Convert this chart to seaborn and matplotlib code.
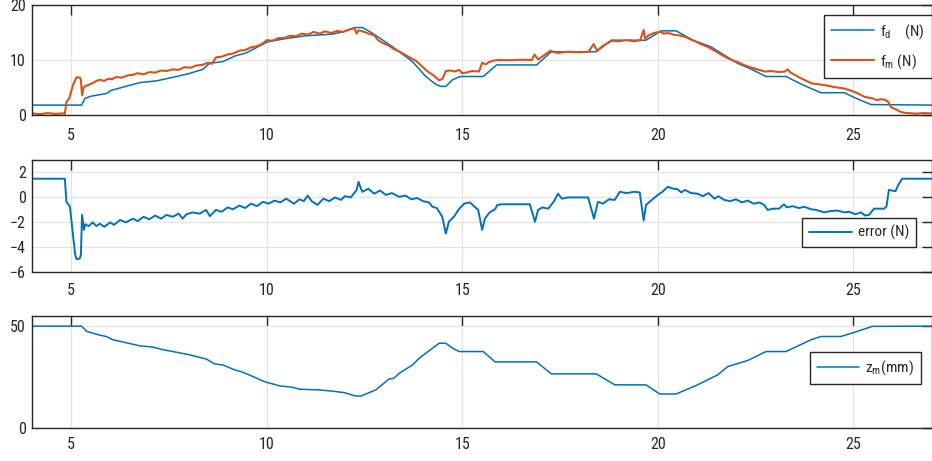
import matplotlib
matplotlib.use("Agg")
import matplotlib.pyplot as plt
from matplotlib import font_manager as fm
import seaborn as sns
import pandas as pd

# ---------------- data ----------------
t_fd = [4.0, 5.27, 5.35, 5.5, 5.9, 6.03, 6.4, 6.76, 7.18, 7.6, 8.0, 8.37, 8.54, 8.88,
        9.18, 9.48, 10.02, 10.5, 11.0, 11.68, 12.0, 12.25, 12.45, 12.71, 13.22, 13.73,
        14.07, 14.32, 14.45, 14.58, 14.75, 14.95, 15.54, 15.88, 16.9, 17.28, 18.43,
        18.81, 19.7, 20.09, 20.47, 20.9, 21.36, 21.7, 22.04, 22.4, 22.77, 23.28, 23.7,
        24.17, 24.77, 25.02, 25.45, 27.0]
f_d = [1.8, 1.8, 3.0, 3.4, 3.9, 4.5, 5.2, 5.9, 6.2, 6.85, 7.5, 8.3, 9.4, 9.7,
       10.7, 11.3, 13.3, 13.9, 14.4, 14.7, 15.2, 15.9, 15.9, 14.85, 12.4, 9.7,
       7.0, 5.6, 5.2, 5.2, 6.4, 7.0, 7.0, 9.1, 9.1, 11.5, 11.5,
       13.6, 13.6, 15.3, 15.3, 13.6, 12.4, 10.9, 9.4, 8.3, 7.0, 7.0, 5.5,
       4.05, 4.05, 3.2, 1.9, 1.8]

t_fm = [4.0, 4.2, 4.4, 4.6, 4.8, 4.84, 4.88, 4.95, 5.05, 5.14, 5.22, 5.25, 5.28, 5.32,
        5.35, 5.45, 5.55, 5.65, 5.73, 5.85, 5.95, 6.05, 6.15, 6.3, 6.45, 6.58, 6.7,
        6.85, 7.0, 7.15, 7.3, 7.44, 7.6, 7.75, 7.9, 8.05, 8.2, 8.35, 8.5, 8.6, 8.71,
        8.85, 9.0, 9.15, 9.31, 9.45, 9.6, 9.75, 9.9, 10.0, 10.15, 10.3, 10.45, 10.6,
        10.75, 10.9, 11.05, 11.2, 11.35, 11.5, 11.65, 11.8, 11.95, 12.1, 12.24, 12.3,
        12.35, 12.5, 12.6, 12.75, 12.85, 12.96, 13.1, 13.25, 13.4, 13.55, 13.7, 13.81,
        13.95, 14.1, 14.25, 14.41, 14.5, 14.58, 14.7, 14.8, 14.92, 15.0, 15.1, 15.25,
        15.43, 15.51, 15.6, 15.68, 15.8, 15.94, 16.2, 16.5, 16.78, 16.85, 16.94, 17.1,
        17.26, 17.35, 17.47, 17.7, 18.0, 18.23, 18.36, 18.45, 18.6, 18.83, 19.0, 19.2,
        19.4, 19.55, 19.64, 19.68, 19.77, 19.9, 20.06, 20.15, 20.28, 20.4, 20.53, 20.7,
        20.85, 20.96, 21.1, 21.3, 21.5, 21.64, 21.8, 21.89, 22.05, 22.2, 22.4, 22.6,
        22.74, 22.9, 23.1, 23.25, 23.32, 23.4, 23.6, 23.8, 23.93, 24.1, 24.3, 24.5,
        24.78, 24.95, 25.1, 25.29, 25.5, 25.6, 25.72, 25.82, 25.89, 25.97, 26.1, 26.2,
        26.31, 26.6, 26.8, 27.0]
f_m = [0.3, 0.15, 0.35, 0.2, 0.3, 0.2, 2.4, 3.0, 5.5, 6.85, 6.8, 6.5, 3.6, 5.0,
       5.2, 5.5, 5.8, 6.2, 6.4, 6.2, 6.6, 6.5, 6.9, 6.8, 7.2, 7.3, 7.6,
       7.4, 7.8, 7.7, 8.1, 8.0, 8.3, 8.2, 8.7, 8.6, 9.0, 9.1, 9.5, 9.3, 10.5,
       10.6, 11.0, 11.2, 11.7, 11.8, 12.3, 12.5, 13.0, 13.6, 13.5, 14.0, 14.0, 14.4,
       14.3, 14.8, 14.6, 15.1, 14.8, 15.2, 14.9, 15.3, 15.1, 15.5, 15.8, 14.8,
       15.4, 15.1, 14.8, 14.5, 13.6, 13.1, 12.7, 12.0, 11.5, 10.9, 10.3, 9.9,
       9.0, 8.0, 7.3, 6.3, 6.6, 8.0, 8.1, 7.9, 8.2, 7.6, 7.7, 8.0,
       7.9, 9.5, 9.2, 9.6, 9.9, 10.0, 9.95, 10.05, 10.0, 11.0, 10.1, 10.9,
       11.7, 11.4, 11.3, 11.5, 11.4, 11.5, 12.9, 11.7, 12.6, 13.5, 13.4, 13.6,
       13.4, 13.6, 15.45, 13.9, 14.5, 14.9, 15.15, 14.8, 14.9, 14.6, 14.5, 14.2,
       13.7, 13.4, 12.9, 12.3, 11.5, 10.9, 10.3, 10.0, 9.6, 9.1, 8.6, 8.2,
       7.9, 8.0, 7.8, 7.9, 8.3, 7.7, 6.9, 6.2, 5.75, 5.6, 5.4, 5.1,
       4.8, 4.4, 4.0, 3.3, 3.0, 2.7, 2.9, 2.7, 2.4, 1.4, 1.0, 0.6,
       0.4, 0.25, 0.35, 0.3]

t_err = [4.0, 4.84, 4.88, 4.97, 5.1, 5.14, 5.22, 5.25, 5.28, 5.33, 5.36, 5.45, 5.55,
         5.65, 5.73, 5.85, 6.0, 6.1, 6.25, 6.4, 6.58, 6.7, 6.85, 7.0, 7.15, 7.3, 7.44,
         7.6, 7.75, 7.85, 7.95, 8.1, 8.29, 8.45, 8.55, 8.7, 8.85, 9.0, 9.14, 9.3, 9.45,
         9.6, 9.75, 9.9, 10.05, 10.2, 10.35, 10.5, 10.6, 10.7, 10.84, 10.95, 11.05,
         11.15, 11.3, 11.45, 11.6, 11.75, 11.9, 12.0, 12.15, 12.3, 12.35, 12.4, 12.45,
         12.6, 12.75, 12.9, 13.05, 13.2, 13.39, 13.55, 13.7, 13.85, 14.0, 14.15, 14.24,
         14.35, 14.49, 14.58, 14.66, 14.8, 14.9, 15.05, 15.2, 15.3, 15.41, 15.51, 15.58,
         15.7, 15.84, 15.9, 16.0, 16.73, 16.86, 16.94, 17.05, 17.2, 17.35, 17.45, 17.55,
         17.7, 18.0, 18.22, 18.37, 18.47, 18.6, 18.75, 18.9, 19.03, 19.2, 19.4, 19.54,
         19.64, 19.7, 19.85, 20.0, 20.1, 20.26, 20.4, 20.51, 20.6, 20.7, 20.85, 21.02,
         21.15, 21.3, 21.45, 21.55, 21.7, 21.85, 22.0, 22.15, 22.3, 22.45, 22.6, 22.72,
         22.81, 22.95, 23.1, 23.23, 23.3, 23.45, 23.6, 23.75, 23.92, 24.05, 24.26, 24.4,
         24.6, 24.77, 24.9, 25.05, 25.2, 25.3, 25.4, 25.53, 25.79, 25.85, 25.91, 26.08,
         26.15, 26.25, 27.0]
err = [1.5, 1.5, -0.35, -0.75, -4.5, -4.95, -4.9, -4.6, -1.4, -2.6, -2.15, -2.3, -2.0,
       -2.3, -2.1, -2.35, -2.0, -2.2, -1.8, -2.0, -1.7, -1.9, -1.55, -1.75, -1.45, -1.7, -1.4,
       -1.55, -1.3, -1.7, -1.35, -1.2, -1.3, -1.0, -1.5, -1.0, -1.15, -0.8, -0.95, -0.65, -0.85,
       -0.5, -0.7, -0.35, -0.5, -0.25, -0.4, -0.1, -0.3, -0.5, -0.15, -0.3, 0.15,
       -0.3, -0.6, -0.1, -0.3, 0.0, -0.2, 0.1, 0.0, 0.6, 1.25, 0.8, 0.45,
       0.7, 0.3, 0.55, 0.2, 0.35, 0.05, 0.15, -0.15, -0.05, -0.3, -0.4, -0.75,
       -0.85, -1.55, -2.9, -1.95, -1.5, -1.0, -0.5, -0.4, -0.7, -1.0, -2.6, -1.7,
       -1.2, -0.95, -0.6, -0.55, -0.55, -1.95, -1.0, -0.8, -0.9, -0.3, 0.3, -0.1,
       0.0, 0.0, 0.0, -1.7, -0.35, -0.5, -0.15, -0.2, 0.45, 0.35, 0.45, 0.4,
       -1.85, -0.6, -0.2, 0.2, 0.4, 0.85, 0.7, 0.65, 0.4, 0.6, 0.35, 0.3,
       0.1, 0.35, -0.1, 0.1, -0.2, -0.3, -0.15, -0.4, -0.25, -0.5, -0.4, -0.6,
       -1.0, -0.9, -0.9, -0.55, -0.8, -0.7, -0.85, -0.75, -0.95, -1.0, -1.2, -1.1,
       -1.05, -1.2, -1.15, -1.35, -1.2, -1.45, -1.4, -0.9, -0.9, -0.7, 0.6, 0.5,
       1.0, 1.5, 1.5]

t_z = [4.0, 5.27, 5.4, 5.73, 5.9, 6.07, 6.76, 7.09, 7.35, 7.6, 8.0, 8.46, 8.67, 8.88,
       9.18, 9.35, 9.65, 9.94, 10.33, 10.67, 10.84, 11.35, 11.77, 12.0, 12.28, 12.41,
       12.79, 13.13, 13.25, 13.39, 13.73, 13.9, 14.41, 14.58, 14.75, 14.92, 15.54,
       15.84, 16.9, 17.28, 18.43, 18.9, 19.7, 20.05, 20.47, 21.02, 21.53, 21.79, 22.3,
       22.77, 23.28, 23.92, 24.17, 24.68, 25.02, 25.49, 27.0]
z_m = [50, 50, 47.4, 45.6, 44.9, 43.3, 40.3, 39.7, 38.4, 37.5, 36.0, 33.8, 31.4, 30.9,
       28.5, 27.6, 25.2, 22.7, 20.6, 19.9, 18.95, 18.6, 17.8, 17.2, 15.6, 15.6,
       18.6, 24.0, 24.3, 26.8, 30.9, 34.2, 41.6, 41.6, 39.2, 37.5, 37.5,
       32.4, 32.4, 26.5, 26.5, 21.1, 21.1, 16.6, 16.6, 21.1, 26.0, 30.1, 33.1,
       37.5, 37.5, 43.3, 44.9, 44.9, 46.9, 49.9, 50]

x_ticks = [5, 10, 15, 20, 25]
y_ticks_top = [0, 10, 20]
y_ticks_mid = [-6, -4, -2, 0, 2]
y_ticks_bot = [0, 50]

label_fd = r"f$_\mathregular{d}$    (N)"
label_fm = r"f$_\mathregular{m}$ (N)"
label_err = "error (N)"
label_z = r"z$_\mathregular{m}$(mm)"

# ---------------- style ----------------
sns.set_theme(style="white")
_avail = set(f.name for f in fm.fontManager.ttflist)
_cands = ["Roboto Condensed", "Archivo Narrow", "Liberation Sans Narrow", "Liberation Sans"]
FONT = next((c for c in _cands if c in _avail), "DejaVu Sans")
plt.rcParams["font.family"] = [FONT, "DejaVu Sans"]
plt.rcParams["mathtext.fontset"] = "custom"
plt.rcParams["mathtext.rm"] = FONT
plt.rcParams["mathtext.it"] = FONT
plt.rcParams["mathtext.bf"] = FONT

BLUE = "#0072BD"
ORANGE = "#D95319"
DARK = "#262626"
FS_TICK = 11.5
FS_LEG = 11

W, H = 932, 461
fig = plt.figure(figsize=(W / 100, H / 100), dpi=100)

def px_axes(left, top, right, bottom):
    return fig.add_axes([left / W, 1 - bottom / H, (right - left) / W, (bottom - top) / H])

ax1 = px_axes(32, 5, 931.5, 115)
ax2 = px_axes(32, 160, 931.5, 272.3)
ax3 = px_axes(32, 316, 931.5, 427.7)

df_fd = pd.DataFrame({"t": t_fd, "v": f_d})
df_fm = pd.DataFrame({"t": t_fm, "v": f_m})
df_err = pd.DataFrame({"t": t_err, "v": err})
df_z = pd.DataFrame({"t": t_z, "v": z_m})

sns.lineplot(data=df_fd, x="t", y="v", ax=ax1, color=BLUE, lw=1.1, sort=False,
             estimator=None, label=label_fd)
sns.lineplot(data=df_fm, x="t", y="v", ax=ax1, color=ORANGE, lw=1.5, sort=False,
             estimator=None, label=label_fm)
sns.lineplot(data=df_err, x="t", y="v", ax=ax2, color=BLUE, lw=1.4, sort=False,
             estimator=None, label=label_err)
sns.lineplot(data=df_z, x="t", y="v", ax=ax3, color=BLUE, lw=1.1, sort=False,
             estimator=None, label=label_z)

for ax, yl, yt, xpad in [(ax1, (0, 20), y_ticks_top, 9.5), (ax2, (-6, 3), y_ticks_mid, 8),
                         (ax3, (0, 55), y_ticks_bot, 6.5)]:
    ax.set_xlim(4, 27)
    ax.set_ylim(*yl)
    ax.set_xticks(x_ticks)
    ax.set_yticks(yt)
    ax.set_xlabel("")
    ax.set_ylabel("")
    ax.grid(True, color="#e3e3e3", lw=0.9)
    ax.set_axisbelow(True)
    for s in ax.spines.values():
        s.set_color(DARK)
        s.set_linewidth(1.0)
        s.set_visible(True)
    ax.tick_params(axis="both", which="major", direction="in", top=True, right=True,
                   length=7, width=1.0, color=DARK, labelcolor=DARK, labelsize=FS_TICK)
    ax.tick_params(axis="x", pad=xpad)
    ax.tick_params(axis="y", pad=4.5)

leg_kw = dict(frameon=True, fancybox=False, edgecolor=DARK, fontsize=FS_LEG,
              handlelength=2.8, handletextpad=0.4, borderpad=0.45, borderaxespad=0,
              framealpha=1)
lg1 = ax1.legend(loc="upper right", bbox_to_anchor=(1.0, 0.91), labelspacing=0.75, **leg_kw)
lg2 = ax2.legend(loc="lower right", bbox_to_anchor=(0.983, 0.223), **leg_kw)
lg3 = ax3.legend(loc="lower right", bbox_to_anchor=(0.9885, 0.39), **leg_kw)
for lg in (lg1, lg2, lg3):
    lg.get_frame().set_linewidth(1.0)
    for t in lg.get_texts():
        t.set_color(DARK)

fig.savefig("out.png", dpi=100)
